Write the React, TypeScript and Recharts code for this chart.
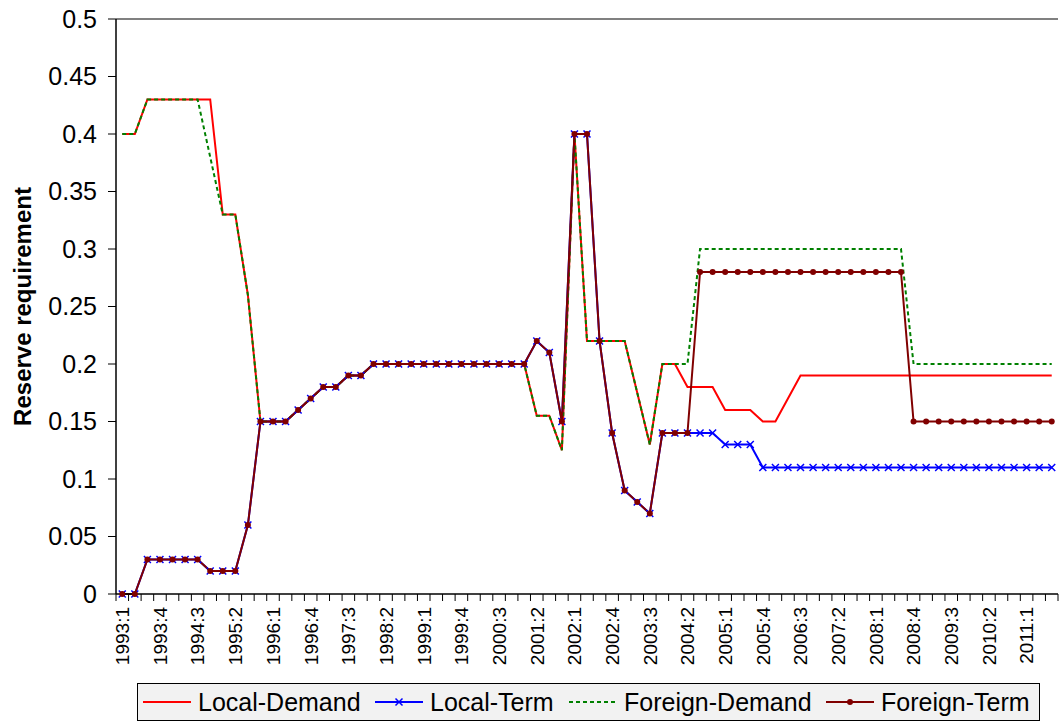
import { LineChart, Line, XAxis, YAxis, ReferenceLine, Legend } from "recharts";

const FONT = "'Liberation Sans', Arial, sans-serif";

const years = [1993, 1994, 1995, 1996, 1997, 1998, 1999, 2000, 2001, 2002, 2003, 2004, 2005, 2006, 2007, 2008, 2009, 2010, 2011];
const lastQuarter = 3; // series stops at 2011:3

const quarters: string[] = [];
years.forEach((y) => {
  for (let q = 1; q <= 4; q++) {
    if (y === 2011 && q > lastQuarter) break;
    quarters.push(`${y}:${q}`);
  }
});

// values, one per quarter
const localDemand = [
  0.4, 0.4, 0.43, 0.43, 0.43, 0.43, 0.43, 0.43, 0.33, 0.33,
  0.26, 0.15, 0.15, 0.15, 0.16, 0.17, 0.18, 0.18, 0.19, 0.19,
  0.2, 0.2, 0.2, 0.2, 0.2, 0.2, 0.2, 0.2, 0.2, 0.2,
  0.2, 0.2, 0.2, 0.155, 0.155, 0.125, 0.4, 0.22, 0.22, 0.22,
  0.22, 0.175, 0.13, 0.2, 0.2, 0.18, 0.18, 0.18, 0.16, 0.16,
  0.16, 0.15, 0.15, 0.17, 0.19, 0.19, 0.19, 0.19, 0.19, 0.19,
  0.19, 0.19, 0.19, 0.19, 0.19, 0.19, 0.19, 0.19, 0.19, 0.19,
  0.19, 0.19, 0.19, 0.19, 0.19,
];

const localTerm = [
  0, 0, 0.03, 0.03, 0.03, 0.03, 0.03, 0.02, 0.02, 0.02,
  0.06, 0.15, 0.15, 0.15, 0.16, 0.17, 0.18, 0.18, 0.19, 0.19,
  0.2, 0.2, 0.2, 0.2, 0.2, 0.2, 0.2, 0.2, 0.2, 0.2,
  0.2, 0.2, 0.2, 0.22, 0.21, 0.15, 0.4, 0.4, 0.22, 0.14,
  0.09, 0.08, 0.07, 0.14, 0.14, 0.14, 0.14, 0.14, 0.13, 0.13,
  0.13, 0.11, 0.11, 0.11, 0.11, 0.11, 0.11, 0.11, 0.11, 0.11,
  0.11, 0.11, 0.11, 0.11, 0.11, 0.11, 0.11, 0.11, 0.11, 0.11,
  0.11, 0.11, 0.11, 0.11, 0.11,
];

const foreignDemand = [
  0.4, 0.4, 0.43, 0.43, 0.43, 0.43, 0.43, 0.38, 0.33, 0.33,
  0.26, 0.15, 0.15, 0.15, 0.16, 0.17, 0.18, 0.18, 0.19, 0.19,
  0.2, 0.2, 0.2, 0.2, 0.2, 0.2, 0.2, 0.2, 0.2, 0.2,
  0.2, 0.2, 0.2, 0.155, 0.155, 0.125, 0.4, 0.22, 0.22, 0.22,
  0.22, 0.175, 0.13, 0.2, 0.2, 0.2, 0.3, 0.3, 0.3, 0.3,
  0.3, 0.3, 0.3, 0.3, 0.3, 0.3, 0.3, 0.3, 0.3, 0.3,
  0.3, 0.3, 0.3, 0.2, 0.2, 0.2, 0.2, 0.2, 0.2, 0.2,
  0.2, 0.2, 0.2, 0.2, 0.2,
];

const foreignTerm = [
  0, 0, 0.03, 0.03, 0.03, 0.03, 0.03, 0.02, 0.02, 0.02,
  0.06, 0.15, 0.15, 0.15, 0.16, 0.17, 0.18, 0.18, 0.19, 0.19,
  0.2, 0.2, 0.2, 0.2, 0.2, 0.2, 0.2, 0.2, 0.2, 0.2,
  0.2, 0.2, 0.2, 0.22, 0.21, 0.15, 0.4, 0.4, 0.22, 0.14,
  0.09, 0.08, 0.07, 0.14, 0.14, 0.14, 0.28, 0.28, 0.28, 0.28,
  0.28, 0.28, 0.28, 0.28, 0.28, 0.28, 0.28, 0.28, 0.28, 0.28,
  0.28, 0.28, 0.28, 0.15, 0.15, 0.15, 0.15, 0.15, 0.15, 0.15,
  0.15, 0.15, 0.15, 0.15, 0.15,
];

const yTicks = [0, 0.05, 0.1, 0.15, 0.2, 0.25, 0.3, 0.35, 0.4, 0.45, 0.5];

const data = quarters.map((q, i) => ({
  quarter: q,
  localDemand: localDemand[i],
  localTerm: localTerm[i],
  foreignDemand: foreignDemand[i],
  foreignTerm: foreignTerm[i],
}));

const W = 1064;
const H = 721;
const PLOT_LEFT = 116;
const PLOT_RIGHT = 1058;
const PLOT_TOP = 19;
const PLOT_BOTTOM = 594;
const BAND = (PLOT_RIGHT - PLOT_LEFT) / quarters.length;

const RED = "#ff0000";
const BLUE = "#0000ff";
const GREEN = "#008000";
const MAROON = "#800000";

// Excel-style category ticks: marks between categories, label on every 3rd quarter
function QuarterTick(props: any) {
  const { x, payload, index } = props;
  const i = payload?.index ?? index;
  const y = PLOT_BOTTOM;
  const left = x - BAND / 2;
  const ly = y + 13;
  return (
    <g>
      <line x1={left} x2={left} y1={y} y2={y + 7} stroke="#000" strokeWidth={1} />
      {i === quarters.length - 1 && (
        <line x1={x + BAND / 2} x2={x + BAND / 2} y1={y} y2={y + 7} stroke="#000" strokeWidth={1} />
      )}
      {i % 3 === 0 && (
        <text
          x={x}
          y={ly}
          dy="0.36em"
          transform={`rotate(-90, ${x}, ${ly})`}
          textAnchor="end"
          fontSize={19}
          fontFamily={FONT}
          fill="#000"
        >
          {payload.value}
        </text>
      )}
    </g>
  );
}

function CrossDot(props: any) {
  const { cx, cy, index } = props;
  if (cx == null || cy == null) return <g key={`x-${index}`} />;
  const s = 3.5;
  return (
    <path
      key={`x-${index}`}
      d={`M${cx - s},${cy - s}L${cx + s},${cy + s}M${cx - s},${cy + s}L${cx + s},${cy - s}`}
      stroke={BLUE}
      strokeWidth={1.5}
      fill="none"
    />
  );
}

const legendItems = [
  { name: "Local-Demand", color: RED, dash: undefined, marker: "none", left: 5 },
  { name: "Local-Term", color: BLUE, dash: undefined, marker: "x", left: 237 },
  { name: "Foreign-Demand", color: GREEN, dash: "4 3", marker: "none", left: 431 },
  { name: "Foreign-Term", color: MAROON, dash: undefined, marker: "dot", left: 688 },
];

function LegendBox() {
  return (
    <div
      style={{
        position: "relative",
        width: 903,
        height: 38,
        border: "1px solid #000",
        background: "#f2f2f2",
        boxSizing: "border-box",
        fontFamily: FONT,
        fontSize: 25,
        color: "#000",
      }}
    >
      {legendItems.map((it) => (
        <div
          key={it.name}
          style={{ position: "absolute", left: it.left, top: 0, height: 36, display: "flex", alignItems: "center", whiteSpace: "nowrap" }}
        >
          <svg width={48} height={12} style={{ marginRight: 7 }}>
            <line x1={0} x2={48} y1={6} y2={6} stroke={it.color} strokeWidth={2} strokeDasharray={it.dash} />
            {it.marker === "x" && (
              <path d="M20.5,2.5L27.5,9.5M20.5,9.5L27.5,2.5" stroke={BLUE} strokeWidth={1.5} />
            )}
            {it.marker === "dot" && <circle cx={24} cy={6} r={3} fill={MAROON} />}
          </svg>
          <span>{it.name}</span>
        </div>
      ))}
    </div>
  );
}

export default function App() {
  return (
    <div style={{ position: "absolute", left: 0, top: 0, width: W, height: H, background: "#fff" }}>
      <LineChart
        width={W}
        height={H}
        data={data}
        margin={{ top: PLOT_TOP, right: W - PLOT_RIGHT, left: 0, bottom: H - PLOT_BOTTOM - 80 }}
      >
        <XAxis
          dataKey="quarter"
          interval={0}
          height={80}
          padding={{ left: BAND / 2, right: BAND / 2 }}
          tickSize={0}
          tickLine={false}
          tick={<QuarterTick />}
          axisLine={{ stroke: "#000", strokeWidth: 1.5 }}
        />
        <YAxis
          yAxisId="left"
          width={PLOT_LEFT}
          domain={[0, 0.5]}
          ticks={yTicks}
          interval={0}
          tickSize={8}
          tickMargin={11}
          tickFormatter={(v: number) => String(Number(v.toFixed(2)))}
          tick={{ fontSize: 25, fontFamily: FONT, fill: "#000" }}
          tickLine={{ stroke: "#000" }}
          axisLine={{ stroke: "#000", strokeWidth: 1.5 }}
          label={{
            value: "Reserve requirement",
            angle: -90,
            position: "insideLeft",
            offset: 22,
            style: { fontSize: 24, fontWeight: "bold", fontFamily: FONT, fill: "#000", textAnchor: "middle" },
          }}
        />
        <YAxis
          yAxisId="right"
          orientation="right"
          width={0}
          domain={[0, 0.5]}
          tick={false}
          tickLine={false}
          axisLine={{ stroke: "#808080", strokeWidth: 2 }}
        />
        <ReferenceLine yAxisId="left" y={0.5} stroke="#808080" strokeWidth={2} />
        <Line
          yAxisId="left"
          type="linear"
          dataKey="localDemand"
          name="Local-Demand"
          stroke={RED}
          strokeWidth={2}
          dot={false}
          isAnimationActive={false}
        />
        <Line
          yAxisId="left"
          type="linear"
          dataKey="localTerm"
          name="Local-Term"
          stroke={BLUE}
          strokeWidth={2}
          dot={CrossDot}
          isAnimationActive={false}
        />
        <Line
          yAxisId="left"
          type="linear"
          dataKey="foreignDemand"
          name="Foreign-Demand"
          stroke={GREEN}
          strokeWidth={2}
          strokeDasharray="4 3"
          dot={false}
          isAnimationActive={false}
        />
        <Line
          yAxisId="left"
          type="linear"
          dataKey="foreignTerm"
          name="Foreign-Term"
          stroke={MAROON}
          strokeWidth={2}
          dot={{ r: 3, fill: MAROON, stroke: "none" }}
          isAnimationActive={false}
        />
        <Legend
          layout="horizontal"
          verticalAlign="middle"
          align="center"
          content={() => <LegendBox />}
          wrapperStyle={{ left: 137, top: 683, width: 903, height: 38 }}
        />
      </LineChart>
    </div>
  );
}
